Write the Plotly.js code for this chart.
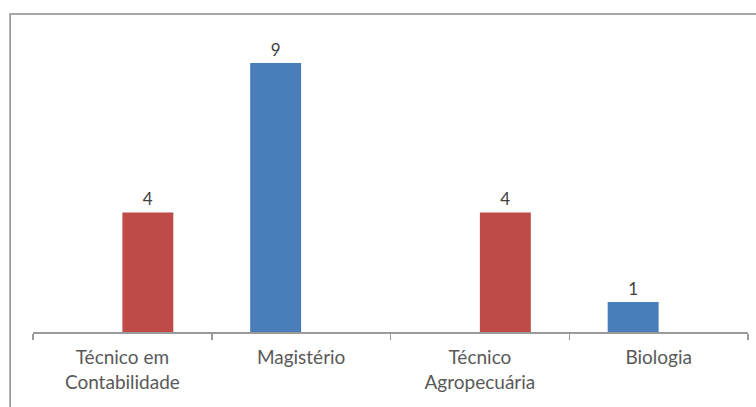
<!DOCTYPE html>
<html>
<head>
<meta charset="utf-8">
<script src="https://cdn.plot.ly/plotly-3.0.1.min.js"></script>
<style>html,body{margin:0;padding:0;background:#fff;}#chart{width:756px;height:407px;}</style>
</head>
<body>
<div id="chart"></div>
<script>
var categories = ["Técnico em<br>Contabilidade", "Magistério", "Técnico<br>Agropecuária", "Biologia"];
var seriesBlue = [null, 9, null, 1];
var seriesRed = [4, null, 4, null];

function labels(vals){ return vals.map(function(v){ return v === null ? "" : String(v); }); }

var labelFont = {family:"Lato, sans-serif", size:17, color:"#404040"};

var traces = [
  {type:"bar", x:categories, y:seriesBlue, text:labels(seriesBlue), textposition:"outside",
   constraintext:"none", textfont:labelFont, cliponaxis:false, marker:{color:"#4a7ebb"}, hoverinfo:"none", name:"Série 1"},
  {type:"bar", x:categories, y:seriesRed, text:labels(seriesRed), textposition:"outside",
   constraintext:"none", textfont:labelFont, cliponaxis:false, marker:{color:"#be4b48"}, hoverinfo:"none", name:"Série 2"}
];

var layout = {
  width:756, height:407,
  margin:{l:33, r:8, t:33, b:75},
  paper_bgcolor:"#fff", plot_bgcolor:"#fff",
  showlegend:false,
  barmode:"group", bargap:0.43, bargroupgap:0,
  font:{family:"Lato, sans-serif", color:"#595959"},
  xaxis:{type:"category", showline:true, linecolor:"#9a9a9a", linewidth:1.5,
         ticks:"outside", tickson:"boundaries", ticklen:6, tickcolor:"#9a9a9a", tickwidth:1.5,
         ticklabelstandoff:8,
         tickfont:{family:"Lato, sans-serif", size:19, color:"#595959"}, showgrid:false, zeroline:false},
  yaxis:{range:[0,10], visible:false, showgrid:false, zeroline:false},
  shapes:[{type:"rect", xref:"paper", yref:"paper", x0:-0.032, x1:1.2, y0:-0.5, y1:1.0635,
           line:{color:"#8a8a8a", width:1.5}, fillcolor:"rgba(0,0,0,0)", layer:"below"}]
};

Plotly.newPlot("chart", traces, layout, {staticPlot:true, displayModeBar:false});
</script>
</body>
</html>
